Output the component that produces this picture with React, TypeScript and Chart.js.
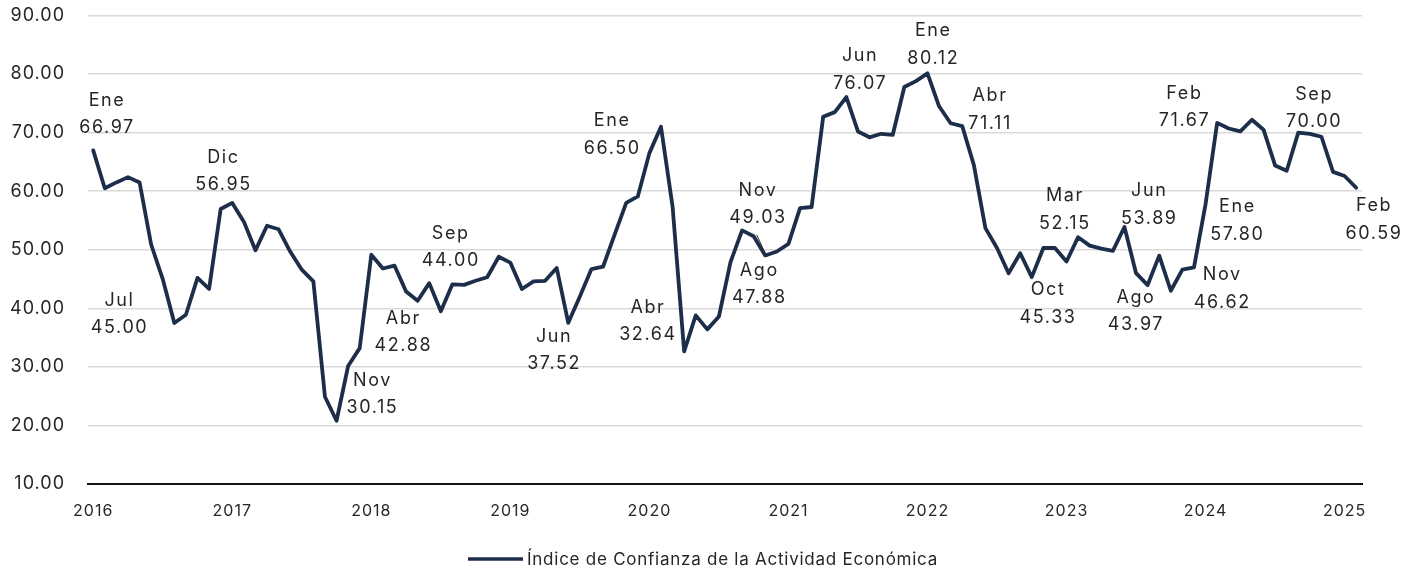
import React, { useEffect, useRef } from "react";
import { Chart, registerables } from "chart.js";

Chart.register(...registerables);

// ---------- data ----------
const years = ["2016", "2017", "2018", "2019", "2020", "2021", "2022", "2023", "2024", "2025"];

const values2016 = [66.97, 60.5, 61.5, 62.4, 61.5, 50.9, 45.0, 37.5, 38.9, 45.2, 43.3, 56.95];
const values2017 = [58.0, 54.8, 49.9, 54.1, 53.5, 49.7, 46.6, 44.6, 24.9, 20.8, 30.15, 33.2];
const values2018 = [49.15, 46.8, 47.3, 42.88, 41.3, 44.3, 39.5, 44.1, 44.0, 44.7, 45.3, 48.8];
const values2019 = [47.8, 43.3, 44.6, 44.7, 46.9, 37.52, 42.0, 46.7, 47.1, 52.6, 58.0, 59.1];
const values2020 = [66.5, 71.0, 57.4, 32.64, 38.8, 36.4, 38.6, 47.88, 53.3, 52.3, 49.03, 49.7];
const values2021 = [51.0, 57.1, 57.3, 72.7, 73.5, 76.07, 70.2, 69.2, 69.8, 69.6, 77.8, 78.8];
const values2022 = [80.12, 74.5, 71.6, 71.11, 64.5, 53.7, 50.3, 46.0, 49.4, 45.33, 50.3, 50.3];
const values2023 = [48.0, 52.15, 50.7, 50.2, 49.8, 53.89, 46.0, 43.97, 49.0, 43.0, 46.62, 47.0];
const values2024 = [57.8, 71.67, 70.7, 70.2, 72.2, 70.5, 64.4, 63.5, 70.0, 69.8, 69.3, 63.3];
const values2025 = [62.6, 60.59];

const series = [
  ...values2016, ...values2017, ...values2018, ...values2019, ...values2020,
  ...values2021, ...values2022, ...values2023, ...values2024, ...values2025,
];

const seriesLabel = "Índice de Confianza de la Actividad Económica";

// annotated points (index into series) and their month names
const labelIndex = [0, 6, 11, 22, 27, 32, 41, 48, 51, 55, 58, 65, 72, 75, 81, 85, 89, 91, 94, 96, 97, 104, 109];
const labelMonth = ["Ene", "Jul", "Dic", "Nov", "Abr", "Sep", "Jun", "Ene", "Abr", "Ago", "Nov", "Jun", "Ene", "Abr", "Oct", "Mar", "Jun", "Ago", "Nov", "Ene", "Feb", "Sep", "Feb"];

// ---------- styling ----------
const LINE_COLOR = "#1c2e4a";
const TEXT_COLOR = "#262626";
const FONT = "Inter";

// label placement relative to its point: [dx, dy of first line cap-centre]
const labelOffset: number[][] = [
  [13, -51], [-44, 20], [2, -53], [23.5, 13.4], [-3.5, 26], [-14, -52.6], [-15, 12.5],
  [-38, -33.5], [-37, -45], [28, 7], [-8, -66], [13, -42.5], [5, -43.8], [27, -31.5],
  [15.5, 11.7], [-14, -42.4], [24, -37], [-12.5, 11.4], [39, 4], [31, 1.6], [-33.5, -30.5],
  [15, -39.5], [17, 17],
];

const labelsPlugin = {
  id: "pointLabels",
  afterDatasetsDraw(chart: any) {
    const meta = chart.getDatasetMeta(0);
    const ctx = chart.ctx as CanvasRenderingContext2D;
    ctx.save();
    ctx.font = `400 18px ${FONT}`;
    (ctx as any).letterSpacing = "1.6px";
    ctx.fillStyle = TEXT_COLOR;
    ctx.textAlign = "center";
    ctx.textBaseline = "alphabetic";
    labelIndex.forEach((idx, k) => {
      const pt = meta.data[idx];
      if (!pt) return;
      const [dx, dy] = labelOffset[k];
      const x = pt.x + dx + 0.8;
      const y1 = pt.y + dy + 6.5;
      ctx.fillText(labelMonth[k], x, y1);
      ctx.fillText(series[idx].toFixed(2), x, y1 + 27.5);
    });
    // leader line for the Nov 2020 label
    const p = meta.data[58];
    if (p) {
      ctx.strokeStyle = "#333";
      ctx.lineWidth = 1;
      ctx.beginPath();
      ctx.moveTo(p.x - 8.5, p.y - 20.7);
      ctx.lineTo(p.x - 0.5, p.y - 3);
      ctx.stroke();
    }
    ctx.restore();
  },
};

const legendPlugin = {
  id: "lineLegend",
  afterDraw(chart: any) {
    const ctx = chart.ctx as CanvasRenderingContext2D;
    const ca = chart.chartArea;
    ctx.save();
    ctx.font = `400 17px ${FONT}`;
    (ctx as any).letterSpacing = "0.75px";
    const startX = ca.left + 380;
    const y = ca.bottom + 75;
    ctx.strokeStyle = LINE_COLOR;
    ctx.lineWidth = 3.5;
    ctx.beginPath();
    ctx.moveTo(startX, y);
    ctx.lineTo(startX + 55, y);
    ctx.stroke();
    ctx.fillStyle = TEXT_COLOR;
    ctx.textAlign = "left";
    ctx.textBaseline = "middle";
    ctx.fillText(seriesLabel, startX + 59, y + 1);
    ctx.restore();
  },
};

const spacingPlugin = {
  id: "spacing",
  beforeDraw(chart: any) {
    (chart.ctx as any).letterSpacing = "1px";
  },
};

export default function App() {
  const ref = useRef<HTMLCanvasElement>(null);

  useEffect(() => {
    if (!ref.current) return;
    const chart = new Chart(ref.current, {
      type: "line",
      data: {
        datasets: [
          {
            label: seriesLabel,
            data: series.map((v, i) => ({ x: i, y: v })),
            borderColor: LINE_COLOR,
            backgroundColor: LINE_COLOR,
            borderWidth: 3.8,
            pointRadius: 0,
            tension: 0,
            borderJoinStyle: "round",
            borderCapStyle: "round",
          },
        ],
      },
      options: {
        responsive: false,
        animation: false,
        layout: { padding: { top: 0, right: 57, bottom: 0, left: 0 } },
        plugins: {
          legend: { display: false },
          tooltip: { enabled: false },
        },
        scales: {
          x: {
            type: "linear",
            min: -0.45,
            max: 109.5,
            afterBuildTicks: (scale: any) => {
              scale.ticks = years.map((_, k) => ({ value: k * 12 }));
            },
            afterFit: (scale: any) => {
              scale.height = 91;
            },
            grid: { display: false, drawTicks: false },
            border: { display: true, color: "#111", width: 2 },
            ticks: {
              autoSkip: false,
              maxRotation: 0,
              padding: 18,
              color: TEXT_COLOR,
              font: { family: FONT, size: 16 },
              callback: (v: any) => years[Math.round(Number(v) / 12)],
            },
          },
          y: {
            min: 10,
            max: 90,
            afterFit: (scale: any) => {
              scale.width = 88;
              scale.paddingTop = 15.5;
              scale.paddingBottom = 0;
            },
            grid: { color: "#d9d9d9", lineWidth: 1.5, drawTicks: false },
            border: { display: false },
            ticks: {
              stepSize: 10,
              padding: 23,
              color: TEXT_COLOR,
              font: { family: FONT, size: 18 },
              callback: (v: any) => Number(v).toFixed(2),
            },
          },
        },
      },
      plugins: [spacingPlugin, labelsPlugin, legendPlugin],
    });
    return () => chart.destroy();
  }, []);

  return (
    <div style={{ position: "fixed", left: 0, top: 0, width: 1419, height: 575, background: "#fff" }}>
      <canvas ref={ref} width={1419} height={575} />
    </div>
  );
}
